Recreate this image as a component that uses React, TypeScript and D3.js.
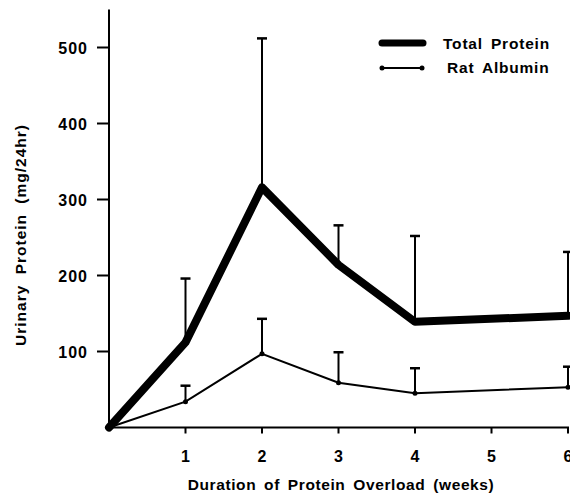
import { useRef, useEffect } from 'react';
import * as d3 from 'd3';

const weeks = [0, 1, 2, 3, 4, 6];
const totalProtein = [0, 112, 316, 214, 139, 147];
const totalProteinErr = [0, 196, 512, 266, 252, 231];
const ratAlbumin = [0, 34, 97, 59, 45, 53];
const ratAlbuminErr = [0, 55, 143, 99, 78, 80];
const xTicks = [1, 2, 3, 4, 5, 6];
const yTicks = [100, 200, 300, 400, 500];

export default function App() {
  const svgRef = useRef<SVGSVGElement>(null);

  useEffect(() => {
    if (!svgRef.current) return;
    const svg = d3.select(svgRef.current);
    svg.selectAll('*').remove();

    const font = '"Liberation Sans", Arial, sans-serif';
    const x = d3.scaleLinear().domain([0, 6]).range([109, 568]);
    const y = d3.scaleLinear().domain([0, 550]).range([427.5, 9.5]);

    const g = svg.append('g').attr('font-family', font).attr('font-weight', 'bold');

    // axes
    g.append('line')
      .attr('x1', x(0)).attr('x2', x(0))
      .attr('y1', y(550)).attr('y2', y(0))
      .attr('stroke', '#000').attr('stroke-width', 2);
    g.append('line')
      .attr('x1', x(0)).attr('x2', x(6) + 1)
      .attr('y1', y(0)).attr('y2', y(0))
      .attr('stroke', '#000').attr('stroke-width', 2);

    yTicks.forEach(t => {
      g.append('line')
        .attr('x1', x(0) - 12).attr('x2', x(0))
        .attr('y1', y(t)).attr('y2', y(t))
        .attr('stroke', '#000').attr('stroke-width', 2);
      g.append('text')
        .attr('x', 88).attr('y', y(t) + 6)
        .attr('text-anchor', 'end')
        .attr('font-size', 16)
        .attr('letter-spacing', 1)
        .text(t);
    });

    xTicks.forEach(t => {
      g.append('line')
        .attr('x1', x(t)).attr('x2', x(t))
        .attr('y1', y(0)).attr('y2', y(0) + 6)
        .attr('stroke', '#000').attr('stroke-width', 2);
      g.append('text')
        .attr('x', x(t)).attr('y', 462)
        .attr('text-anchor', 'middle')
        .attr('font-size', 16)
        .text(t);
    });

    g.append('text')
      .attr('x', 341).attr('y', 490)
      .attr('text-anchor', 'middle')
      .attr('font-size', 15.5)
      .attr('letter-spacing', 0.6)
      .attr('word-spacing', 3)
      .text('Duration of Protein Overload (weeks)');

    g.append('text')
      .attr('transform', 'translate(26,235) rotate(-90)')
      .attr('text-anchor', 'middle')
      .attr('font-size', 15.5)
      .attr('letter-spacing', 1)
      .attr('word-spacing', 5)
      .text('Urinary Protein (mg/24hr)');

    // error bars
    const errBars = (vals: number[], errs: number[]) => {
      weeks.forEach((w, i) => {
        if (w === 0) return;
        g.append('line')
          .attr('x1', x(w)).attr('x2', x(w))
          .attr('y1', y(vals[i])).attr('y2', y(errs[i]))
          .attr('stroke', '#000').attr('stroke-width', 2);
        g.append('line')
          .attr('x1', x(w) - 5).attr('x2', x(w) + 5)
          .attr('y1', y(errs[i])).attr('y2', y(errs[i]))
          .attr('stroke', '#000').attr('stroke-width', 2.5);
      });
    };
    errBars(totalProtein, totalProteinErr);
    errBars(ratAlbumin, ratAlbuminErr);

    const line = d3.line<number>()
      .x((_, i) => x(weeks[i]))
      .y(d => y(d));

    g.append('path')
      .datum(totalProtein)
      .attr('d', line)
      .attr('fill', 'none')
      .attr('stroke', '#000')
      .attr('stroke-width', 8)
      .attr('stroke-linejoin', 'round')
      .attr('stroke-linecap', 'round');

    g.append('path')
      .datum(ratAlbumin)
      .attr('d', line)
      .attr('fill', 'none')
      .attr('stroke', '#000')
      .attr('stroke-width', 2);

    ratAlbumin.forEach((v, i) => {
      if (weeks[i] === 0) return;
      g.append('circle')
        .attr('cx', x(weeks[i])).attr('cy', y(v))
        .attr('r', 2.5).attr('fill', '#000');
    });

    // legend
    g.append('line')
      .attr('x1', 382).attr('x2', 423)
      .attr('y1', 43).attr('y2', 43)
      .attr('stroke', '#000').attr('stroke-width', 7)
      .attr('stroke-linecap', 'round');
    g.append('text')
      .attr('x', 443).attr('y', 49)
      .attr('font-size', 15.5)
      .attr('letter-spacing', 0.8)
      .attr('word-spacing', 3)
      .text('Total Protein');
    g.append('line')
      .attr('x1', 382).attr('x2', 422)
      .attr('y1', 68).attr('y2', 68)
      .attr('stroke', '#000').attr('stroke-width', 2);
    [382, 422].forEach(cx => {
      g.append('circle').attr('cx', cx).attr('cy', 68).attr('r', 2.5).attr('fill', '#000');
    });
    g.append('text')
      .attr('x', 447).attr('y', 73)
      .attr('font-size', 15.5)
      .attr('letter-spacing', 0.8)
      .attr('word-spacing', 3)
      .text('Rat Albumin');
  }, []);

  return (
    <div style={{ margin: -8 }}>
      <svg ref={svgRef} width={578} height={502} style={{ display: 'block', background: '#fff' }} />
    </div>
  );
}
